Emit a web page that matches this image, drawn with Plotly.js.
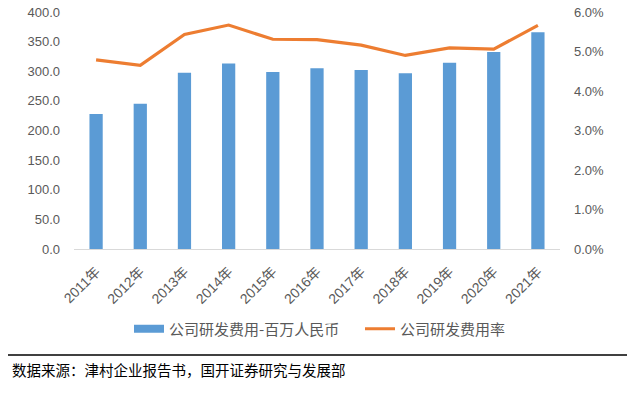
<!DOCTYPE html>
<html><head><meta charset="utf-8">
<script src="https://cdn.plot.ly/plotly-3.0.1.min.js"></script>
<style>body{margin:0;background:#fff}#c{width:627px;height:394px}</style>
</head><body><div id="c"></div>
<script>
const years = ['2011年','2012年','2013年','2014年','2015年','2016年','2017年','2018年','2019年','2020年','2021年'];
const rdExpense = [228, 245, 297.6, 313, 298.7, 305, 302, 296.5, 314.5, 332.5, 366];
const rdRate = [4.79, 4.65, 5.43, 5.67, 5.31, 5.30, 5.16, 4.90, 5.09, 5.06, 5.66];
const leftTicks = [0,50,100,150,200,250,300,350,400];
const rightTicks = [0,1,2,3,4,5,6];
const seriesNames = ['公司研发费用-百万人民币', '公司研发费用率'];

const tickFont = {family:'"Liberation Sans", "Noto Sans CJK SC", sans-serif', size:13, color:'#595959'};
const legFont = {family:'"Noto Sans CJK SC", sans-serif', size:15, color:'#595959'};
const traces = [
  {type:'bar', x:years, y:rdExpense, name:seriesNames[0], marker:{color:'#5B9BD5'}, width:0.3, yaxis:'y', showlegend:false},
  {type:'scatter', mode:'lines', x:[years[0]], y:[null], name:seriesNames[0], line:{color:'#5B9BD5', width:8}, yaxis:'y', showlegend:true, legend:'legend', hoverinfo:'skip'},
  {type:'scatter', mode:'lines', x:years, y:rdRate, name:seriesNames[1], line:{color:'#ED7D31', width:3.2}, yaxis:'y2', legend:'legend2'}
];
const ly = -(329-249)/237;
const layout = {
  width:627, height:394,
  margin:{l:74, r:67, t:12, b:145, pad:0},
  paper_bgcolor:'#fff', plot_bgcolor:'#fff',
  showlegend:true,
  legend:{orientation:'h', x:(129-74)/486, xanchor:'left', y:ly, yanchor:'middle', font:legFont, bgcolor:'rgba(0,0,0,0)', itemwidth:30},
  legend2:{orientation:'h', x:(360-74)/486, xanchor:'left', y:ly, yanchor:'middle', font:legFont, bgcolor:'rgba(0,0,0,0)', itemwidth:30},
  xaxis:{type:'category', tickangle:-45, tickfont:{family:tickFont.family, size:14, color:'#595959'}, ticklabelstandoff:8, showline:true, linecolor:'#d9d9d9', linewidth:1, ticks:'', showgrid:false, zeroline:false},
  yaxis:{range:[0,400], tickvals:leftTicks, ticktext:leftTicks.map(v=>v.toFixed(1)), tickfont:tickFont, ticklabelstandoff:13, showgrid:false, zeroline:false, showline:false, ticks:''},
  yaxis2:{range:[0,6], overlaying:'y', side:'right', tickvals:rightTicks, ticktext:rightTicks.map(v=>v.toFixed(1)+'%'), tickfont:tickFont, ticklabelstandoff:13, showgrid:false, zeroline:false, showline:false, ticks:''},
  shapes:[{type:'line', xref:'paper', yref:'paper', x0:(8-74)/486, x1:(627-74)/486, y0:-0.447, y1:-0.447, line:{color:'#000', width:1.5}}],
  annotations:[{xref:'paper', yref:'paper', x:(10-74)/486, y:-0.51, xanchor:'left', yanchor:'middle', showarrow:false, text:'数据来源：津村企业报告书，国开证券研究与发展部', font:{family:'"Noto Sans CJK SC", sans-serif', size:14.5, color:'#000'}}]
};
Plotly.newPlot('c', traces, layout, {displayModeBar:false, staticPlot:true});
</script></body></html>
